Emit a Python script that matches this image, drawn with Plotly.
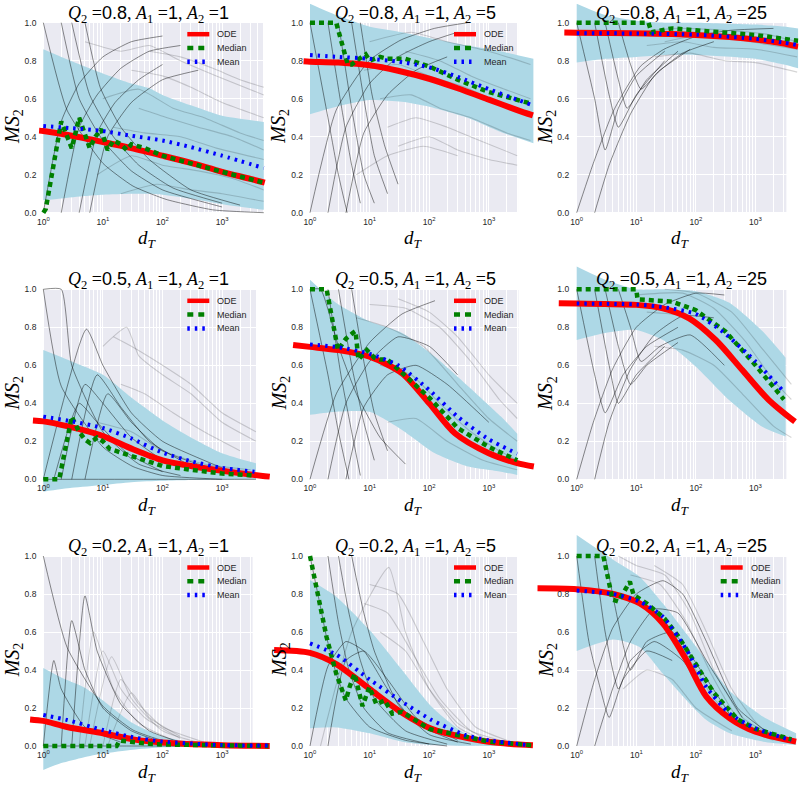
import plotly.graph_objects as go

W, H = 800, 787

# ---------------- data ----------------
Q2_VALUES = [0.8, 0.8, 0.8, 0.5, 0.5, 0.5, 0.2, 0.2, 0.2]
A1_VALUES = [1, 1, 1, 1, 1, 1, 1, 1, 1]
A2_VALUES = [1, 5, 25, 1, 5, 25, 1, 5, 25]

XTICK_VALS = [1, 10, 100, 1000]
XTICK_TEXT = ["10<sup>0</sup>", "10<sup>1</sup>", "10<sup>2</sup>", "10<sup>3</sup>"]
YTICK_VALS = [0.0, 0.2, 0.4, 0.6, 0.8, 1.0]
YTICK_TEXT = ["0.0", "0.2", "0.4", "0.6", "0.8", "1.0"]
MINOR_VALS = [2, 3, 4, 5, 6, 7, 8, 9, 20, 30, 40, 50, 60, 70, 80, 90,
              200, 300, 400, 500, 600, 700, 800, 900, 2000, 3000, 4000, 5000, 6000, 7000, 8000, 9000]

ODE_X = [
    [0.85, 1, 3, 10, 30, 100, 300, 1000, 3000, 5200],
    [0.78, 1, 3, 10, 30, 100, 300, 1000, 3000, 5500],
    [0.62, 1, 10, 100, 1000, 3000, 5200],
    [0.67, 1, 2.5, 9, 32, 100, 300, 1000, 3000, 6300],
    [0.52, 1, 3, 10, 35, 100, 270, 1000, 3000, 5700],
    [0.5, 1, 10, 28, 77, 215, 600, 1660, 4600],
    [0.6, 1, 2.5, 10, 32, 100, 1000, 6300],
    [0.25, 1, 2.8, 10, 35, 110, 1000, 5500],
    [0.22, 1, 4.1, 11.5, 28, 70, 150, 370, 1000, 4800],
]
ODE_Y = [
    [0.432, 0.43, 0.405, 0.372, 0.34, 0.30, 0.262, 0.215, 0.178, 0.158],
    [0.797, 0.795, 0.79, 0.776, 0.747, 0.705, 0.655, 0.595, 0.54, 0.512],
    [0.948, 0.947, 0.944, 0.935, 0.912, 0.89, 0.874],
    [0.31, 0.305, 0.28, 0.233, 0.158, 0.10, 0.07, 0.045, 0.025, 0.014],
    [0.707, 0.697, 0.68, 0.645, 0.558, 0.40, 0.242, 0.137, 0.085, 0.067],
    [0.926, 0.925, 0.918, 0.90, 0.847, 0.733, 0.575, 0.418, 0.303],
    [0.14, 0.132, 0.10, 0.067, 0.035, 0.018, 0.004, 0.0],
    [0.505, 0.49, 0.43, 0.30, 0.175, 0.09, 0.022, 0.004],
    [0.83, 0.825, 0.80, 0.75, 0.645, 0.45, 0.26, 0.146, 0.075, 0.023],
]

MEAN_X = [
    [1, 3, 10, 30, 100, 300, 1000, 5000],
    [1, 3, 10, 30, 100, 300, 1000, 3000, 5000],
    [1, 10, 100, 1000, 3000, 5200],
    [1, 3, 10, 30, 100, 300, 1000, 3500],
    [1, 3, 10, 30, 100, 300, 1000, 3000],
    [1, 10, 30, 100, 300, 1000, 3000],
    [1, 2.5, 10, 32, 100, 1000, 6000],
    [1, 2.8, 10, 35, 110, 400, 1000, 5000],
    [1, 4.1, 11.5, 28, 70, 150, 370, 1000, 4000],
]
MEAN_Y = [
    [0.456, 0.445, 0.43, 0.405, 0.38, 0.345, 0.30, 0.235],
    [0.83, 0.82, 0.81, 0.795, 0.765, 0.715, 0.65, 0.595, 0.57],
    [0.945, 0.943, 0.937, 0.915, 0.895, 0.882],
    [0.33, 0.305, 0.27, 0.215, 0.14, 0.095, 0.06, 0.04],
    [0.71, 0.695, 0.66, 0.60, 0.47, 0.33, 0.21, 0.135],
    [0.925, 0.92, 0.905, 0.87, 0.77, 0.62, 0.46],
    [0.163, 0.137, 0.084, 0.046, 0.023, 0.005, 0.002],
    [0.54, 0.48, 0.35, 0.233, 0.137, 0.058, 0.03, 0.004],
    [0.818, 0.80, 0.76, 0.68, 0.505, 0.31, 0.17, 0.093, 0.03],
]

MED_X = [
    [1, 1.1, 2, 3, 4, 6, 7.5, 9.3, 12, 15, 20, 25, 30, 50, 100, 300, 1000, 5000],
    [1, 2.75, 4.3, 5, 6, 8.6, 10, 15, 20, 40, 100, 300, 1000, 3000, 5000],
    [1, 16, 18, 25, 40, 100, 300, 1000, 5200],
    [1, 1.85, 3, 4, 5, 6.1, 8, 10, 13, 20, 30, 50, 100, 300, 1000, 3500],
    [1, 1.9, 2.95, 4, 5.2, 5.8, 6.5, 8, 9, 12, 15, 20, 30, 50, 100, 200, 300, 1000, 3000],
    [1, 10, 10.5, 20, 40, 100, 316, 1000, 3000],
    [1, 17, 19, 30, 60, 100, 1000, 6000],
    [1, 1.46, 1.89, 2.76, 4, 4.6, 5.6, 7.6, 9.9, 13, 18, 24, 35, 100, 1000, 5500],
    [1, 2.8, 4, 5, 7.8, 9, 15, 20, 30, 50, 100, 200, 500, 1000, 4000],
]
MED_Y = [
    [0, 0.02, 0.48, 0.34, 0.50, 0.34, 0.40, 0.44, 0.33, 0.38, 0.36, 0.33, 0.36, 0.34, 0.30, 0.262, 0.215, 0.158],
    [1.0, 1.0, 0.78, 0.78, 0.80, 0.833, 0.80, 0.82, 0.81, 0.81, 0.77, 0.70, 0.635, 0.59, 0.575],
    [1.0, 1.0, 0.95, 0.96, 0.97, 0.96, 0.95, 0.935, 0.905],
    [0, 0, 0.33, 0.25, 0.21, 0.19, 0.22, 0.20, 0.16, 0.14, 0.12, 0.10, 0.07, 0.05, 0.03, 0.02],
    [1, 1, 0.68, 0.74, 0.77, 0.78, 0.63, 0.66, 0.68, 0.64, 0.63, 0.63, 0.58, 0.52, 0.43, 0.33, 0.27, 0.17, 0.10],
    [1, 1, 0.947, 0.94, 0.935, 0.89, 0.777, 0.60, 0.42],
    [0, 0, 0.028, 0.02, 0.012, 0.008, 0.002, 0.0],
    [1, 0.75, 0.575, 0.38, 0.24, 0.31, 0.38, 0.21, 0.31, 0.22, 0.24, 0.17, 0.18, 0.09, 0.023, 0.003],
    [1, 1, 0.77, 0.76, 0.865, 0.795, 0.75, 0.716, 0.67, 0.58, 0.435, 0.28, 0.14, 0.09, 0.035],
]

BAND_X = [
    [1, 2, 5, 10, 30, 60, 100, 300, 1000, 5000],
    [1, 2.76, 9.8, 34.6, 100, 440, 1560, 5600],
    [1, 3, 10, 30, 100, 1000, 3000, 5200],
    [1, 3, 10, 30, 100, 300, 1000, 3700],
    [1, 2.8, 10, 35, 125, 450, 1600, 3000],
    [1, 3, 10, 28, 100, 360, 1300, 3200],
    [1, 2, 4.7, 10, 32, 100, 400, 1000, 6000],
    [1, 2.76, 10, 35, 110, 400, 1500, 5000],
    [1, 4.1, 11.5, 28, 70, 150, 370, 1350, 4800],
]
BAND_UP = [
    [0.86, 0.82, 0.77, 0.733, 0.68, 0.655, 0.62, 0.565, 0.51, 0.478],
    [1.10, 1.04, 0.98, 0.95, 0.92, 0.88, 0.85, 0.81],
    [1.10, 1.04, 1.01, 1.0, 1.0, 0.99, 0.98, 0.97],
    [0.68, 0.62, 0.55, 0.43, 0.31, 0.22, 0.137, 0.084],
    [1.05, 0.926, 0.83, 0.77, 0.645, 0.49, 0.33, 0.24],
    [1.12, 1.05, 1.0, 1.0, 0.99, 0.93, 0.78, 0.64],
    [0.41, 0.36, 0.31, 0.24, 0.12, 0.05, 0.014, 0.005, 0.0],
    [0.874, 0.786, 0.61, 0.40, 0.207, 0.067, 0.02, 0.005],
    [1.11, 0.98, 0.89, 0.75, 0.59, 0.45, 0.29, 0.154, 0.067],
]
BAND_LO = [
    [0.065, 0.075, 0.088, 0.095, 0.10, 0.10, 0.095, 0.075, 0.045, 0.015],
    [0.518, 0.558, 0.593, 0.584, 0.558, 0.50, 0.426, 0.365],
    [0.79, 0.81, 0.82, 0.83, 0.83, 0.81, 0.78, 0.76],
    [-0.065, -0.045, -0.03, -0.015, -0.008, -0.004, -0.002, 0.0],
    [0.34, 0.356, 0.355, 0.26, 0.137, 0.067, 0.04, 0.023],
    [0.733, 0.77, 0.786, 0.733, 0.593, 0.418, 0.277, 0.225],
    [-0.126, -0.09, -0.06, -0.04, -0.02, -0.007, -0.002, 0.0, 0.0],
    [0.093, 0.098, 0.067, 0.023, 0.005, 0.001, 0.0, 0.0],
    [0.50, 0.56, 0.52, 0.38, 0.24, 0.137, 0.067, 0.023, 0.005],
]

# individual simulated trajectories (approximate; early "fan" ones are darker)
GRAY_DARK = [
    [[(1, 1), (2.5, 0.54), (10, 0.26), (32, 0.14), (115, 0.07), (700, 0.015), (5000, 0)],
     [(2, 1), (4, 0.6), (10, 0.38), (30, 0.22), (100, 0.12), (1000, 0.03)],
     [(3, 1), (6, 0.62), (15, 0.4), (40, 0.25), (150, 0.13), (1000, 0.05)],
     [(1, 0), (2, 0.48), (4, 0.68), (10, 0.82), (30, 0.9), (100, 0.93)],
     [(2, 0), (4, 0.45), (8, 0.62), (20, 0.76), (60, 0.85), (200, 0.88)],
     [(4, 0), (8, 0.42), (16, 0.58), (40, 0.7), (100, 0.78)],
     [(5, 1), (9, 0.66), (20, 0.45), (60, 0.28), (300, 0.12), (2000, 0.04)],
     [(6, 0), (12, 0.4), (30, 0.58), (100, 0.7), (400, 0.75)]],
    [[(1, 1), (2, 0.5), (3, 0.2), (4.2, 0.0)],
     [(2, 1), (3.2, 0.6), (5, 0.25), (7, 0.05)],
     [(3, 1), (5, 0.55), (8, 0.2), (12, 0.05)],
     [(1, 0), (2.75, 0.54), (9.8, 0.8), (34, 0.91), (122, 0.97), (440, 1.0)],
     [(2, 0), (4, 0.45), (10, 0.68), (30, 0.82), (100, 0.9), (300, 0.95)],
     [(4, 0), (8, 0.42), (20, 0.62), (60, 0.75), (200, 0.82)],
     [(5, 1), (8, 0.6), (12, 0.3), (20, 0.1)],
     [(7, 1), (11, 0.62), (18, 0.35), (30, 0.15)]],
    [[(1, 0), (1.9, 0.26), (4.2, 0.54), (11.7, 0.77), (29, 0.86), (105, 0.93), (380, 0.96), (2000, 0.97)],
     [(2, 0), (3.5, 0.25), (8, 0.52), (20, 0.72), (60, 0.84), (200, 0.9)],
     [(1, 1), (2, 0.6), (3, 0.33), (5, 0.55), (10, 0.72), (30, 0.85)],
     [(2, 1), (3.5, 0.62), (5, 0.45), (10, 0.62), (30, 0.8)],
     [(3, 1), (5, 0.7), (7, 0.55), (15, 0.7), (50, 0.85)],
     [(5, 1), (8, 0.78), (12, 0.65), (25, 0.75), (80, 0.86)]],
    [[(1, 1), (2, 0.49), (10, 0.17), (32, 0.067), (100, 0.02), (1000, 0)],
     [(1, 1), (2, 1), (3, 0.6), (10, 0.25), (40, 0.08), (200, 0.02)],
     [(1, 0), (5.3, 0.79), (10, 0.6), (30, 0.35), (100, 0.2), (1000, 0.06)],
     [(2, 0), (5, 0.5), (10, 0.4), (30, 0.22), (100, 0.1)],
     [(3, 0), (8, 0.55), (20, 0.38), (60, 0.2), (300, 0.07)],
     [(5, 0), (12, 0.45), (30, 0.3), (100, 0.15), (1000, 0.04)],
     [(1, 0), (1000, 0), (3700, 0)],
     [(1.5, 0), (4, 0.4), (8, 0.3), (25, 0.14), (100, 0.04)]],
    [[(1, 1), (2, 0.55), (3, 0.25), (4.5, 0.0)],
     [(2, 1), (3.3, 0.55), (5, 0.25), (7, 0.02)],
     [(3, 1), (5, 0.6), (8, 0.3), (12, 0.1)],
     [(1, 0), (2.76, 0.45), (10, 0.72), (35, 0.87), (125, 0.94)],
     [(2, 0), (4, 0.4), (10, 0.62), (30, 0.75), (100, 0.7), (300, 0.55)],
     [(4, 0), (8, 0.38), (20, 0.55), (60, 0.6), (200, 0.5), (1000, 0.3)],
     [(5, 1), (8, 0.62), (12, 0.35), (20, 0.15)],
     [(1, 1), (1.5, 1), (3, 0.7), (6, 0.45), (15, 0.22), (40, 0.08)]],
    [[(1, 0), (1.9, 0.3), (4, 0.58), (10, 0.8), (30, 0.92), (100, 0.98), (300, 0.97)],
     [(2, 0), (3.5, 0.3), (8, 0.58), (20, 0.76), (60, 0.86), (200, 0.85)],
     [(1, 1), (2, 0.55), (3, 0.35), (6, 0.55), (15, 0.7), (50, 0.8)],
     [(2, 1), (3.5, 0.6), (5, 0.4), (10, 0.55), (30, 0.7)],
     [(3, 1), (5, 0.7), (8, 0.5), (15, 0.6), (50, 0.72)],
     [(5, 1), (8, 0.8), (12, 0.62), (25, 0.7), (80, 0.76), (300, 0.6)]],
    [[(1, 1), (2.5, 0.52), (10, 0.21), (32, 0.084), (100, 0.03), (1000, 0.0)],
     [(1, 0), (30, 0), (6000, 0)],
     [(1, 0), (1.5, 0.45), (2, 0.3), (5, 0.1), (20, 0.02)],
     [(2, 0), (3, 0.66), (5, 0.4), (10, 0.2), (30, 0.08), (100, 0.02)],
     [(3, 0), (5, 0.79), (8, 0.5), (20, 0.22), (60, 0.08), (200, 0.02)]],
    [[(1, 1), (1.46, 0.75), (1.89, 0.575), (2.76, 0.38), (4, 0.25), (10, 0.1), (40, 0.03), (200, 0)],
     [(2, 1), (3, 0.65), (4.5, 0.4), (8, 0.2), (20, 0.07), (100, 0.01)],
     [(3, 1), (4.5, 0.7), (7, 0.45), (12, 0.25), (40, 0.08), (200, 0.01)],
     [(1, 0), (2, 0.42), (4, 0.55), (8, 0.5), (20, 0.3), (60, 0.12), (300, 0.02)],
     [(2, 0), (4, 0.45), (8, 0.5), (20, 0.35), (60, 0.15), (300, 0.03)],
     [(5, 1), (8, 0.7), (12, 0.5), (30, 0.22), (100, 0.06), (500, 0.01)]],
    [[(1, 0), (2, 0.35), (4, 0.62), (10, 0.8), (28, 0.87), (60, 0.8), (150, 0.55), (500, 0.2), (2000, 0.05)],
     [(1, 1), (1.6, 0.55), (2.5, 0.3), (3.5, 0.15), (6, 0.35), (15, 0.5), (40, 0.45)],
     [(2, 1), (3, 0.6), (5, 0.3), (8, 0.45), (20, 0.55), (60, 0.45), (200, 0.2)],
     [(3, 1), (5, 0.65), (8, 0.4), (15, 0.55), (40, 0.6), (120, 0.4), (400, 0.15)],
     [(2, 0), (4, 0.3), (8, 0.55), (20, 0.72), (50, 0.7), (150, 0.45), (600, 0.15)]],
]
GRAY_FAINT = [
    [[(5, 0.9), (20, 0.85), (60, 0.88), (200, 0.8), (800, 0.72), (5000, 0.62)],
     [(10, 0.6), (40, 0.65), (150, 0.55), (500, 0.5), (2000, 0.42), (5000, 0.38)],
     [(8, 0.2), (30, 0.3), (100, 0.25), (400, 0.22), (1500, 0.18), (5000, 0.12)],
     [(30, 0.75), (100, 0.72), (300, 0.66), (1000, 0.58), (5000, 0.5)],
     [(15, 0.45), (50, 0.42), (200, 0.4), (800, 0.34), (5000, 0.28)],
     [(20, 0.1), (80, 0.15), (300, 0.12), (1000, 0.1), (5000, 0.06)],
     [(40, 0.55), (120, 0.5), (400, 0.45), (1500, 0.4), (5000, 0.33)],
     [(60, 0.85), (200, 0.82), (700, 0.76), (2000, 0.7), (5000, 0.66)]],
    [[(10, 0.9), (50, 0.95), (200, 0.9), (1000, 0.85), (5000, 0.78)],
     [(8, 0.75), (30, 0.78), (100, 0.72), (400, 0.66), (1500, 0.58), (5000, 0.52)],
     [(15, 0.6), (50, 0.62), (150, 0.55), (500, 0.5), (2000, 0.42), (5000, 0.38)],
     [(20, 0.45), (60, 0.5), (200, 0.45), (700, 0.38), (3000, 0.3)],
     [(30, 0.35), (100, 0.4), (300, 0.33), (1000, 0.28), (3000, 0.25)],
     [(6, 0.2), (20, 0.3), (80, 0.35), (300, 0.3)],
     [(40, 0.85), (150, 0.8), (500, 0.72), (1500, 0.66), (5000, 0.6)]],
    [[(10, 0.95), (50, 0.97), (300, 0.96), (1500, 0.94), (5000, 0.9)],
     [(15, 0.88), (60, 0.9), (200, 0.87), (1000, 0.86), (5000, 0.82)],
     [(20, 0.82), (80, 0.84), (300, 0.8), (1000, 0.79), (5000, 0.74)],
     [(30, 0.9), (100, 0.93), (500, 0.91), (2000, 0.88), (5000, 0.86)]],
    [[(10, 0.7), (25, 0.8), (40, 0.65), (100, 0.55), (300, 0.45), (1000, 0.3), (3700, 0.2)],
     [(15, 0.75), (30, 0.7), (100, 0.6), (300, 0.5), (1000, 0.35), (3700, 0.25)],
     [(20, 0.5), (50, 0.45), (150, 0.35), (500, 0.25), (2000, 0.15)],
     [(8, 0.3), (30, 0.25), (100, 0.15), (500, 0.08), (3000, 0.05)]],
    [[(10, 0.92), (40, 0.9), (150, 0.8), (500, 0.62), (1500, 0.42), (3000, 0.32)],
     [(6, 0.85), (20, 0.8), (80, 0.7), (300, 0.5), (1000, 0.32), (3000, 0.2)],
     [(15, 0.6), (50, 0.55), (150, 0.4), (500, 0.25), (1500, 0.15), (3000, 0.1)],
     [(30, 0.95), (100, 0.88), (300, 0.75), (1000, 0.55), (3000, 0.4)],
     [(20, 0.3), (60, 0.32), (200, 0.2), (800, 0.1), (3000, 0.05)]],
    [[(10, 0.97), (60, 0.98), (200, 0.9), (700, 0.72), (2000, 0.52), (4000, 0.42)],
     [(15, 0.88), (60, 0.86), (200, 0.75), (700, 0.55), (2000, 0.38), (4000, 0.3)],
     [(20, 0.7), (60, 0.68), (200, 0.6), (600, 0.45), (2000, 0.28), (4000, 0.22)],
     [(30, 1.0), (100, 0.98), (400, 0.88), (1200, 0.7), (4000, 0.5)]],
    [[(5, 0), (10, 0.5), (20, 0.3), (50, 0.15), (200, 0.04)],
     [(6, 0), (14, 0.47), (30, 0.25), (100, 0.08), (500, 0.01)],
     [(10, 0), (20, 0.35), (40, 0.22), (100, 0.1), (500, 0.02)],
     [(12, 0), (30, 0.28), (60, 0.15), (200, 0.05)],
     [(4, 0), (7, 0.6), (15, 0.3), (40, 0.12), (150, 0.03)]],
    [[(1.5, 0), (5, 0.6), (21, 0.94), (40, 0.6), (100, 0.3), (300, 0.1), (1000, 0.02)],
     [(8, 0.75), (20, 0.7), (50, 0.5), (150, 0.25), (500, 0.08), (2000, 0.02)],
     [(10, 0.85), (30, 0.8), (80, 0.55), (200, 0.3), (600, 0.1), (2000, 0.03)],
     [(15, 0.6), (40, 0.5), (100, 0.3), (300, 0.12), (1000, 0.03)]],
    [[(5, 1), (10, 0.95), (30, 0.9), (80, 0.7), (200, 0.4), (600, 0.15), (2000, 0.05)],
     [(8, 0.9), (25, 0.85), (70, 0.65), (180, 0.38), (500, 0.15), (2000, 0.04)],
     [(10, 0.75), (30, 0.65), (80, 0.45), (200, 0.25), (600, 0.1), (2000, 0.03)],
     [(20, 0.95), (60, 0.85), (150, 0.6), (400, 0.3), (1200, 0.1), (4000, 0.03)],
     [(6, 0.3), (15, 0.4), (40, 0.35), (100, 0.2), (400, 0.08)]],
]

LEGEND_PANELS = [0, 1, 3, 4, 6, 7, 8]

# ---------------- layout geometry (pixels) ----------------
COL_X0 = [43.3, 310.0, 576.7]      # pixel of x = 1
DEC = 59.6                          # pixels per decade
ROW_Y1 = [22.7, 289.3, 556.0]      # pixel of y = 1.0
UNIT = 190.0                        # pixels per unit y
COL_XR = [(-0.25, 3.85), (-0.62, 3.80), (-0.68, 3.72)]
ROW_YR = [(-0.15, 1.10), (-0.15, 1.15), (-0.15, 1.15)]
RECT_XMAX = [5000, 3100, 3300, 3700, 3150, 3300, 3250, 3000, 3300]
Y_STANDOFF = [-9, -31, -34]
X_STANDOFF = -26

RED, GREEN, BLUE = "#ff0000", "#008000", "#0000ff"
BAND_COLOR = "#add8e6"
BG = "#eaeaf2"
TXT = "#262626"


def px(xp):
    return xp / W


def py(yp):
    return 1 - yp / H


fig = go.Figure()
shapes = []
annotations = []
layout_axes = {}

for p in range(9):
    r, c = divmod(p, 3)
    k = p + 1
    xs = "" if k == 1 else str(k)
    xref, yref = "x" + xs, "y" + xs
    xr0, xr1 = COL_XR[c]
    yr0, yr1 = ROW_YR[r]
    left = COL_X0[c] + xr0 * DEC
    right = COL_X0[c] + xr1 * DEC
    top = ROW_Y1[r] - (yr1 - 1) * UNIT
    bottom = ROW_Y1[r] + (1 - yr0) * UNIT

    layout_axes["xaxis" + xs] = dict(
        type="log", range=[xr0, xr1], domain=[px(left), px(right)], anchor=yref,
        tickmode="array", tickvals=XTICK_VALS, ticktext=XTICK_TEXT,
        showgrid=True, gridcolor="white", gridwidth=1.1, zeroline=False, showline=False,
        ticks="", ticklabelstandoff=X_STANDOFF,
        tickfont=dict(size=8.5, color=TXT, family="Liberation Sans"),
        minor=dict(tickmode="array", tickvals=MINOR_VALS, showgrid=True,
                   gridcolor="white", gridwidth=0.6, ticks=""),
        fixedrange=True,
    )
    layout_axes["yaxis" + xs] = dict(
        range=[yr0, yr1], domain=[py(bottom), py(top)], anchor=xref,
        tickmode="array", tickvals=YTICK_VALS, ticktext=YTICK_TEXT,
        showgrid=True, gridcolor="white", gridwidth=1.1, zeroline=False, showline=False,
        ticks="", ticklabelstandoff=Y_STANDOFF[c],
        tickfont=dict(size=8.5, color=TXT, family="Liberation Sans"),
        fixedrange=True,
    )

    # axes background
    shapes.append(dict(type="rect", xref=xref, yref=yref, x0=1, x1=RECT_XMAX[p], y0=0, y1=1,
                       fillcolor=BG, line=dict(width=0), layer="below"))

    # band
    fig.add_trace(go.Scatter(x=BAND_X[p], y=BAND_LO[p], mode="lines",
                             line=dict(width=0, shape="spline", smoothing=0.6),
                             xaxis=xref, yaxis=yref, showlegend=False, hoverinfo="skip"))
    fig.add_trace(go.Scatter(x=BAND_X[p], y=BAND_UP[p], mode="lines",
                             line=dict(width=0, shape="spline", smoothing=0.6),
                             fill="tonexty", fillcolor=BAND_COLOR,
                             xaxis=xref, yaxis=yref, showlegend=False, hoverinfo="skip"))
    # trajectories
    for ln in GRAY_FAINT[p]:
        fig.add_trace(go.Scatter(x=[q[0] for q in ln], y=[q[1] for q in ln], mode="lines",
                                 line=dict(color="rgba(0,0,0,0.17)", width=1.1, shape="spline", smoothing=0.5),
                                 xaxis=xref, yaxis=yref, showlegend=False, hoverinfo="skip"))
    for ln in GRAY_DARK[p]:
        fig.add_trace(go.Scatter(x=[q[0] for q in ln], y=[q[1] for q in ln], mode="lines",
                                 line=dict(color="rgba(0,0,0,0.45)", width=1.0, shape="spline", smoothing=0.5),
                                 xaxis=xref, yaxis=yref, showlegend=False, hoverinfo="skip"))
    # ODE, median, mean
    fig.add_trace(go.Scatter(x=ODE_X[p], y=ODE_Y[p], mode="lines",
                             line=dict(color=RED, width=6, shape="spline", smoothing=0.8),
                             xaxis=xref, yaxis=yref, showlegend=False))
    fig.add_trace(go.Scatter(x=MED_X[p], y=MED_Y[p], mode="lines",
                             line=dict(color=GREEN, width=4.5, dash="5px,4px"),
                             xaxis=xref, yaxis=yref, showlegend=False))
    fig.add_trace(go.Scatter(x=MEAN_X[p], y=MEAN_Y[p], mode="lines",
                             line=dict(color=BLUE, width=4, dash="2.5px,5px", shape="spline", smoothing=0.6),
                             xaxis=xref, yaxis=yref, showlegend=False))

    # title
    title = ("<i>Q</i><sub>2</sub> =<span style='font-family:Liberation Sans'>%s</span>, "
             "<i>A</i><sub>1</sub> =<span style='font-family:Liberation Sans'>%s</span>, "
             "<i>A</i><sub>2</sub> =<span style='font-family:Liberation Sans'>%s</span>"
             % (Q2_VALUES[p], A1_VALUES[p], A2_VALUES[p]))
    annotations.append(dict(text=title, xref="paper", yref="paper",
                            x=px(COL_X0[c] + 105), y=py(ROW_Y1[r] - 8.5),
                            xanchor="center", yanchor="middle", showarrow=False,
                            font=dict(size=18, color="black", family="Liberation Serif")))
    # axis labels
    annotations.append(dict(text="<i>MS</i><sub>2</sub>", xref="paper", yref="paper",
                            x=px(COL_X0[c] - 30), y=py(ROW_Y1[r] + 104), textangle=-90,
                            xanchor="center", yanchor="middle", showarrow=False,
                            font=dict(size=20, color="black", family="Liberation Serif")))
    annotations.append(dict(text="<i>d</i><sub><i>T</i></sub>", xref="paper", yref="paper",
                            x=px(COL_X0[c] + 104), y=py(ROW_Y1[r] + UNIT + 40.5),
                            xanchor="center", yanchor="bottom", showarrow=False,
                            font=dict(size=19, color="black", family="Liberation Serif")))

    # legend
    if p in LEGEND_PANELS:
        entries = [("ODE", RED, 4.5, "solid"), ("Median", GREEN, 4.5, "6px,5px"), ("Mean", BLUE, 4.5, "2.5px,5px")]
        for i, (lab, col, wdt, dsh) in enumerate(entries):
            yy = ROW_Y1[r] + 11.5 + 13.8 * i
            shapes.append(dict(type="line", xref="paper", yref="paper",
                               x0=px(COL_X0[c] + 144), x1=px(COL_X0[c] + 166), y0=py(yy), y1=py(yy),
                               line=dict(color=col, width=wdt, dash=dsh), layer="above"))
            annotations.append(dict(text=lab, xref="paper", yref="paper",
                                    x=px(COL_X0[c] + 172), y=py(yy), xanchor="left", yanchor="middle",
                                    showarrow=False, font=dict(size=9, color=TXT, family="Liberation Sans")))

fig.update_layout(
    width=W, height=H, margin=dict(l=0, r=0, t=0, b=0),
    paper_bgcolor="white", plot_bgcolor="rgba(0,0,0,0)",
    showlegend=False, shapes=shapes, annotations=annotations,
    **layout_axes,
)

fig.write_html("out.html", config={"displayModeBar": False},
               post_script="document.body.style.margin='0px';")
